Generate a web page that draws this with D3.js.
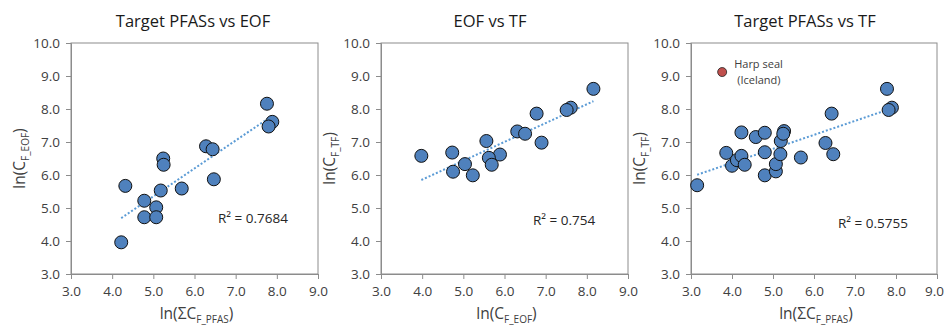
<!DOCTYPE html>
<html>
<head>
<meta charset="utf-8">
<script src="https://cdn.jsdelivr.net/npm/d3@7"></script>
<style>
  body { margin: 0; background: #fff; }
  svg { display: block; font-family: "Open Sans", "Noto Sans", sans-serif; }
</style>
</head>
<body>
<div id="chart"></div>
<script>
// axis ticks (shared by all three panels)
const xTicks = [3, 4, 5, 6, 7, 8, 9];
const yTicks = [3, 4, 5, 6, 7, 8, 9, 10];

// Target PFASs vs EOF
const pfasEofX = [7.76, 7.89, 7.80, 6.28, 6.44, 6.47, 5.24, 5.25, 5.18, 5.69, 4.32, 4.78, 5.07, 4.78, 5.07, 4.22];
const pfasEofY = [8.16, 7.61, 7.47, 6.87, 6.78, 5.87, 6.50, 6.31, 5.53, 5.59, 5.67, 5.22, 5.02, 4.72, 4.72, 3.96];

// EOF vs TF
const eofTfX = [8.16, 7.61, 7.51, 6.78, 6.31, 6.50, 6.90, 5.56, 5.89, 5.62, 5.69, 5.04, 5.23, 4.73, 4.75, 3.98];
const eofTfY = [8.61, 8.04, 7.97, 7.86, 7.32, 7.25, 6.98, 7.03, 6.62, 6.52, 6.31, 6.33, 5.99, 6.68, 6.10, 6.58];

// Target PFASs vs TF
const pfasTfX = [3.15, 3.86, 4.00, 4.12, 4.23, 4.31, 4.23, 4.58, 4.80, 4.80, 4.80, 5.07, 5.07, 5.18, 5.19, 5.27, 5.25, 5.68, 6.28, 6.47, 6.43, 7.78, 7.90, 7.82];
const pfasTfY = [5.69, 6.67, 6.28, 6.45, 6.58, 6.31, 7.29, 7.15, 7.28, 6.69, 5.99, 6.11, 6.33, 6.63, 7.03, 7.33, 7.25, 6.53, 6.97, 6.63, 7.86, 8.61, 8.04, 7.97];

// highlighted outlier
const harpSeal = { x: 3.76, y: 9.12, label: ["Harp seal", "(Iceland)"] };

const titles = ["Target PFASs vs EOF", "EOF vs TF", "Target PFASs vs TF"];
const r2Labels = ["R² = 0.7684", "R² = 0.754", "R² = 0.5755"];
const xTitles = [["ln(ΣC", "F_PFAS", ")"], ["ln(C", "F_EOF", ")"], ["ln(ΣC", "F_PFAS", ")"]];
const yTitles = [["ln(C", "F_EOF", ")"], ["ln(C", "F_TF", ")"], ["ln(C", "F_TF", ")"]];

const width = 945, height = 326;

const panels = [
  { left: 71, right: 318, xs: pfasEofX, ys: pfasEofY, r2: [218, 223], titleX: 193 },
  { left: 381, right: 628, xs: eofTfX, ys: eofTfY, r2: [533, 225], titleX: 490 },
  { left: 691, right: 937, xs: pfasTfX, ys: pfasTfY, r2: [838, 228], titleX: 805 }
];
const plotTop = 43, plotBottom = 274;

const svg = d3.select('#chart').append('svg')
  .attr('width', width)
  .attr('height', height);

function linearFit(xs, ys) {
  const mx = d3.mean(xs), my = d3.mean(ys);
  let sxy = 0, sxx = 0;
  xs.forEach((x, i) => { sxy += (x - mx) * (ys[i] - my); sxx += (x - mx) * (x - mx); });
  const slope = sxy / sxx;
  return { slope, intercept: my - slope * mx };
}

function addSubText(sel, parts) {
  sel.append('tspan').text(parts[0]);
  sel.append('tspan').attr('font-size', 10).attr('dy', 4).text(parts[1]);
  sel.append('tspan').attr('dy', -4).text(parts[2]);
}

panels.forEach((p, i) => {
  const x = d3.scaleLinear().domain([3, 9]).range([p.left, p.right]);
  const y = d3.scaleLinear().domain([3, 10]).range([plotBottom, plotTop]);
  const g = svg.append('g');

  // plot frame
  g.append('rect')
    .attr('x', p.left).attr('y', plotTop)
    .attr('width', p.right - p.left).attr('height', plotBottom - plotTop)
    .attr('fill', 'none').attr('stroke', '#8c8c8c').attr('stroke-width', 1);

  const xAxis = g.append('g')
    .attr('transform', `translate(0,${plotBottom})`)
    .call(d3.axisBottom(x).tickValues(xTicks).tickFormat(d3.format('.1f')).tickSize(5).tickPadding(7));
  const yAxis = g.append('g')
    .attr('transform', `translate(${p.left},0)`)
    .call(d3.axisLeft(y).tickValues(yTicks).tickFormat(d3.format('.1f')).tickSize(5).tickPadding(6));

  [xAxis, yAxis].forEach(a => {
    a.select('.domain').attr('stroke', '#8c8c8c');
    a.selectAll('.tick line').attr('stroke', '#8c8c8c');
    a.selectAll('.tick text')
      .attr('fill', '#404040')
      .attr('font-size', 13.5)
      .attr('font-family', '"Open Sans", "Noto Sans", sans-serif');
  });

  // last label of the right panel sits at the page edge
  if (i === 2) {
    xAxis.selectAll('.tick text').filter(d => d === 9).attr('dx', -3);
  }

  // trend line
  const fit = linearFit(p.xs, p.ys);
  const [x0, x1] = d3.extent(p.xs);
  g.append('line')
    .attr('x1', x(x0)).attr('y1', y(fit.intercept + fit.slope * x0))
    .attr('x2', x(x1)).attr('y2', y(fit.intercept + fit.slope * x1))
    .attr('stroke', '#5b9bd5')
    .attr('stroke-width', 2)
    .attr('stroke-dasharray', '2,2');

  // points
  g.selectAll('circle.pt')
    .data(p.xs.map((v, k) => [v, p.ys[k]]))
    .join('circle')
    .attr('class', 'pt')
    .attr('cx', d => x(d[0]))
    .attr('cy', d => y(d[1]))
    .attr('r', 6.5)
    .attr('fill', '#4f81bd')
    .attr('stroke', '#111')
    .attr('stroke-width', 1);

  if (i === 2) {
    g.append('circle')
      .attr('cx', x(harpSeal.x)).attr('cy', y(harpSeal.y))
      .attr('r', 4.5)
      .attr('fill', '#c0504d')
      .attr('stroke', '#222')
      .attr('stroke-width', 0.8);
    g.append('text')
      .attr('x', x(harpSeal.x) + 12).attr('y', y(harpSeal.y) - 4)
      .attr('font-size', 11).attr('fill', '#404040')
      .text(harpSeal.label[0]);
    g.append('text')
      .attr('x', x(harpSeal.x) + 15).attr('y', y(harpSeal.y) + 12)
      .attr('font-size', 11).attr('fill', '#404040')
      .text(harpSeal.label[1]);
  }

  // R² annotation
  g.append('text')
    .attr('x', p.r2[0]).attr('y', p.r2[1])
    .attr('font-size', 13.5).attr('fill', '#262626')
    .text(r2Labels[i]);

  // title
  g.append('text')
    .attr('x', p.titleX).attr('y', 27)
    .attr('text-anchor', 'middle')
    .attr('font-size', 16.5).attr('fill', '#1a1a1a')
    .text(titles[i]);

  // axis titles
  const xt = g.append('text')
    .attr('x', (p.left + p.right) / 2 + 2).attr('y', 319)
    .attr('text-anchor', 'middle')
    .attr('font-size', 15.5).attr('fill', '#404040');
  addSubText(xt, xTitles[i]);

  const yt = g.append('text')
    .attr('transform', `translate(${p.left - 46},${(plotTop + plotBottom) / 2}) rotate(-90)`)
    .attr('text-anchor', 'middle')
    .attr('font-size', 15.5).attr('fill', '#404040');
  addSubText(yt, yTitles[i]);
});
</script>
</body>
</html>
